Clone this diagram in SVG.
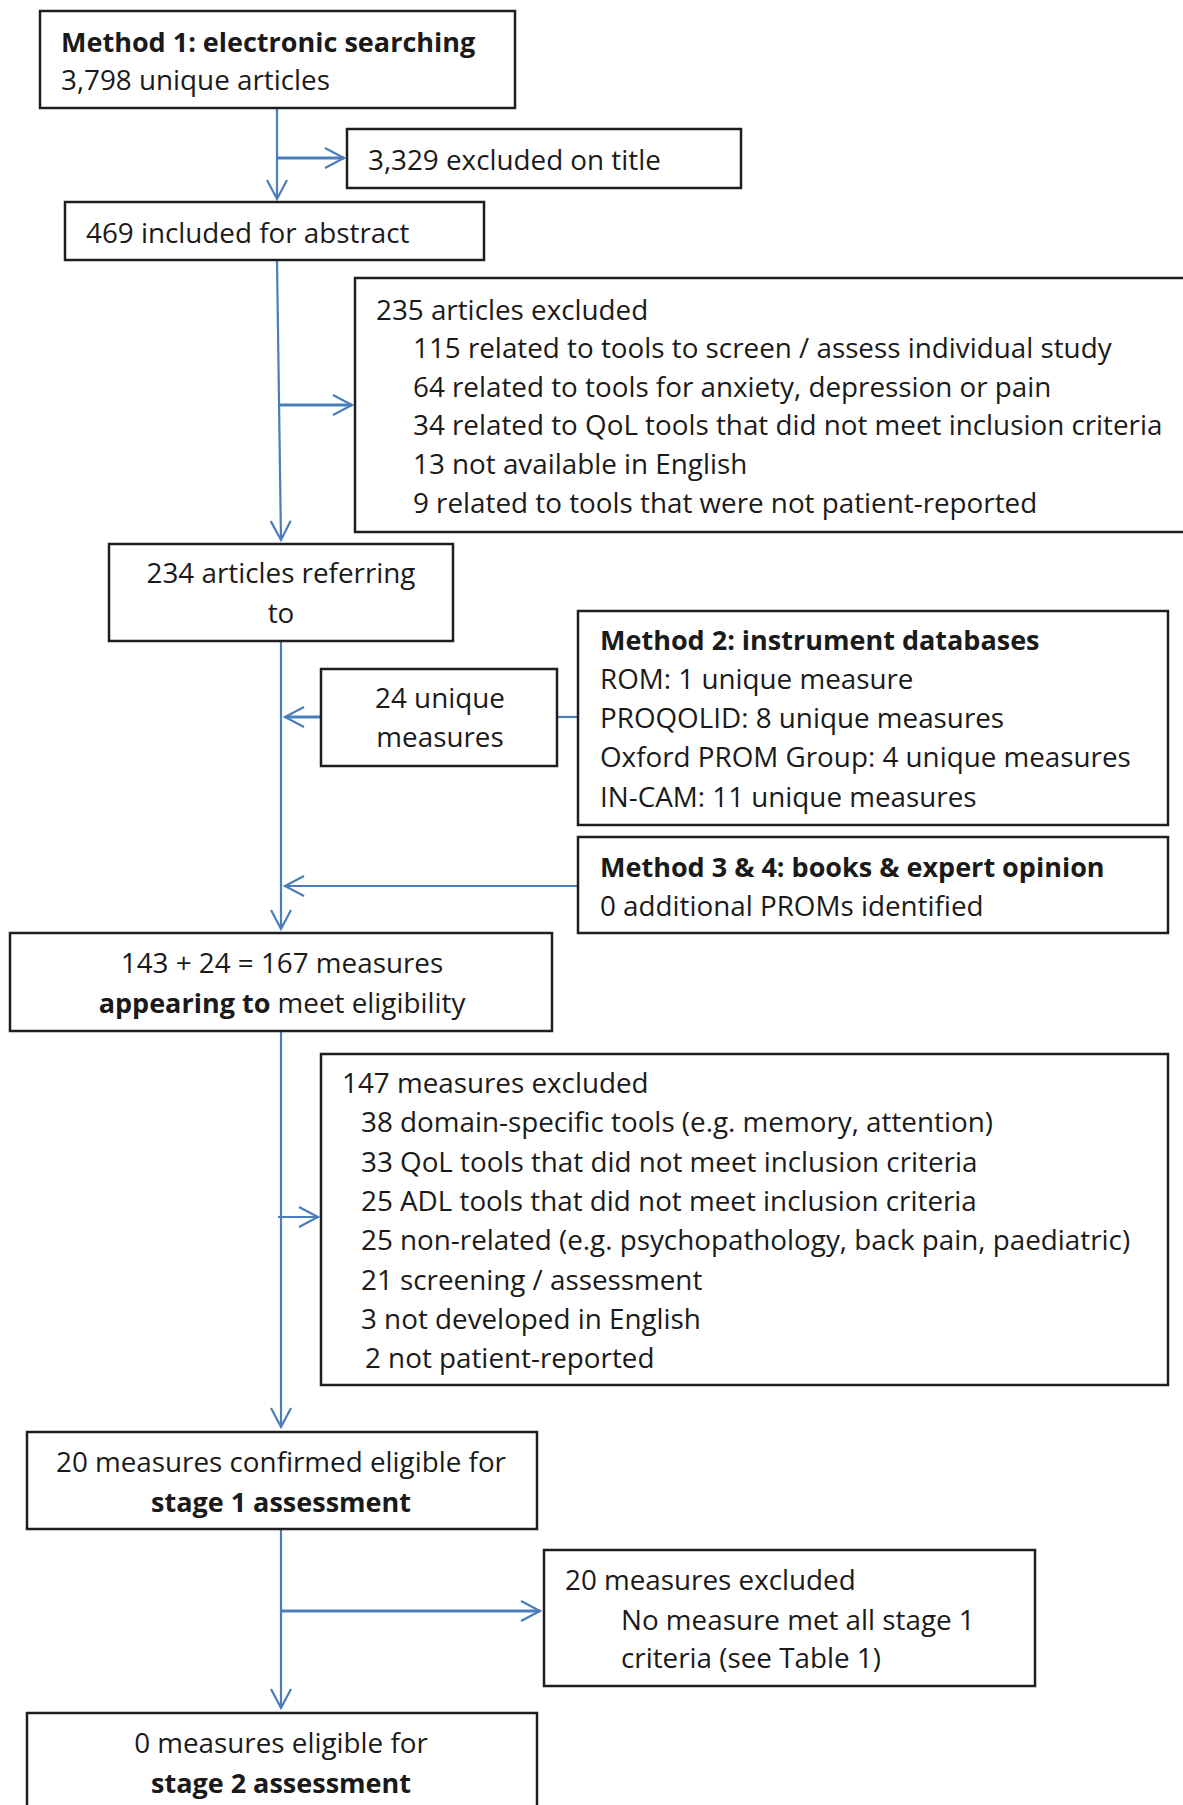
<svg xmlns="http://www.w3.org/2000/svg" width="1183" height="1805" viewBox="0 0 1183 1805">
  <defs>
    <style>
      .box { fill: #ffffff; stroke: #1e1e1e; stroke-width: 2.5; }
      .t { font-family: "Open Sans", "Noto Sans", "Liberation Sans", sans-serif; font-size: 27.8px; fill: #1a1a1a; }
      .b { font-weight: bold; font-size: 27px; }
      .c { text-anchor: middle; }
      .link { fill: none; stroke: #4a7ebb; stroke-width: 2.2; }
      .thick { stroke-width: 3; }
    </style>
    <marker id="arr" markerUnits="userSpaceOnUse" markerWidth="26" markerHeight="26" viewBox="-22 -13 26 26" refX="0" refY="0" orient="auto" overflow="visible">
      <path d="M-19,-10 L0,0 L-19,10" fill="none" stroke="#4a7ebb" stroke-width="2.2"/>
    </marker>
  </defs>

  <rect x="0" y="0" width="1183" height="1805" fill="#ffffff"/>

  <!-- connectors -->
  <g id="connectors">
    <line class="link" x1="277" y1="108" x2="277" y2="199" marker-end="url(#arr)"/>
    <line class="link thick" x1="277" y1="158" x2="344" y2="158" marker-end="url(#arr)"/>
    <line class="link" x1="277" y1="260" x2="281" y2="540" marker-end="url(#arr)"/>
    <line class="link thick" x1="279" y1="405" x2="352" y2="405" marker-end="url(#arr)"/>
    <line class="link" x1="281" y1="641" x2="281" y2="929" marker-end="url(#arr)"/>
    <line class="link thick" x1="321" y1="717" x2="285" y2="717" marker-end="url(#arr)"/>
    <line class="link" x1="557" y1="717" x2="578" y2="717"/>
    <line class="link" x1="578" y1="886" x2="285" y2="886" marker-end="url(#arr)"/>
    <line class="link" x1="281" y1="1031" x2="281" y2="1427" marker-end="url(#arr)"/>
    <line class="link" x1="278" y1="1217" x2="318" y2="1217" marker-end="url(#arr)"/>
    <line class="link" x1="281" y1="1529" x2="281" y2="1708" marker-end="url(#arr)"/>
    <line class="link thick" x1="281" y1="1611" x2="540" y2="1611" marker-end="url(#arr)"/>
  </g>

  <!-- method 1 -->
  <g id="method1">
    <rect class="box" x="40" y="11" width="475" height="97"/>
    <text class="t b" x="61" y="52">Method 1: electronic searching</text>
    <text class="t" x="61" y="90">3,798 unique articles</text>
  </g>

  <g id="excluded-title">
    <rect class="box" x="347" y="129" width="394" height="59"/>
    <text class="t" x="368" y="170">3,329 excluded on title</text>
  </g>

  <g id="included-abstract">
    <rect class="box" x="65" y="202" width="419" height="58"/>
    <text class="t" x="86" y="243">469 included for abstract</text>
  </g>

  <g id="articles-excluded">
    <rect class="box" x="355" y="278" width="840" height="254"/>
    <text class="t" x="376" y="320">235 articles excluded</text>
    <text class="t" x="413" y="358">115 related to tools to screen / assess individual study</text>
    <text class="t" x="413" y="397">64 related to tools for anxiety, depression or pain</text>
    <text class="t" x="413" y="435">34 related to QoL tools that did not meet inclusion criteria</text>
    <text class="t" x="413" y="474">13 not available in English</text>
    <text class="t" x="413" y="513">9 related to tools that were not patient-reported</text>
  </g>

  <g id="articles-referring">
    <rect class="box" x="109" y="544" width="344" height="97"/>
    <text class="t c" x="281" y="583">234 articles referring</text>
    <text class="t c" x="281" y="623">to</text>
  </g>

  <g id="unique-measures">
    <rect class="box" x="321" y="669" width="236" height="97"/>
    <text class="t c" x="440" y="708">24 unique</text>
    <text class="t c" x="440" y="747">measures</text>
  </g>

  <g id="method2">
    <rect class="box" x="578" y="611" width="590" height="214"/>
    <text class="t b" x="600" y="650">Method 2: instrument databases</text>
    <text class="t" x="600" y="689">ROM: 1 unique measure</text>
    <text class="t" x="600" y="728">PROQOLID: 8 unique measures</text>
    <text class="t" x="600" y="767">Oxford PROM Group: 4 unique measures</text>
    <text class="t" x="600" y="807">IN-CAM: 11 unique measures</text>
  </g>

  <g id="method3-4">
    <rect class="box" x="578" y="837" width="590" height="96"/>
    <text class="t b" x="600" y="877">Method 3 &amp; 4: books &amp; expert opinion</text>
    <text class="t" x="600" y="916">0 additional PROMs identified</text>
  </g>

  <g id="appearing-eligible">
    <rect class="box" x="10" y="933" width="542" height="98"/>
    <text class="t c" x="282" y="973">143 + 24 = 167 measures</text>
    <text class="t c" x="282" y="1013"><tspan class="b">appearing to</tspan> meet eligibility</text>
  </g>

  <g id="measures-excluded">
    <rect class="box" x="321" y="1054" width="847" height="331"/>
    <text class="t" x="342" y="1093">147 measures excluded</text>
    <text class="t" x="361" y="1132">38 domain-specific tools (e.g. memory, attention)</text>
    <text class="t" x="361" y="1172">33 QoL tools that did not meet inclusion criteria</text>
    <text class="t" x="361" y="1211">25 ADL tools that did not meet inclusion criteria</text>
    <text class="t" x="361" y="1250">25 non-related (e.g. psychopathology, back pain, paediatric)</text>
    <text class="t" x="361" y="1290">21 screening / assessment</text>
    <text class="t" x="361" y="1329">3 not developed in English</text>
    <text class="t" x="365" y="1368">2 not patient-reported</text>
  </g>

  <g id="stage1-eligible">
    <rect class="box" x="27" y="1432" width="510" height="97"/>
    <text class="t c" x="281" y="1472">20 measures confirmed eligible for</text>
    <text class="t c b" x="281" y="1512">stage 1 assessment</text>
  </g>

  <g id="stage1-excluded">
    <rect class="box" x="544" y="1550" width="491" height="136"/>
    <text class="t" x="565" y="1590">20 measures excluded</text>
    <text class="t" x="621" y="1630">No measure met all stage 1</text>
    <text class="t" x="621" y="1668">criteria (see Table 1)</text>
  </g>

  <g id="stage2-eligible">
    <rect class="box" x="27" y="1713" width="510" height="110"/>
    <text class="t c" x="281" y="1753">0 measures eligible for</text>
    <text class="t c b" x="281" y="1793">stage 2 assessment</text>
  </g>
</svg>
